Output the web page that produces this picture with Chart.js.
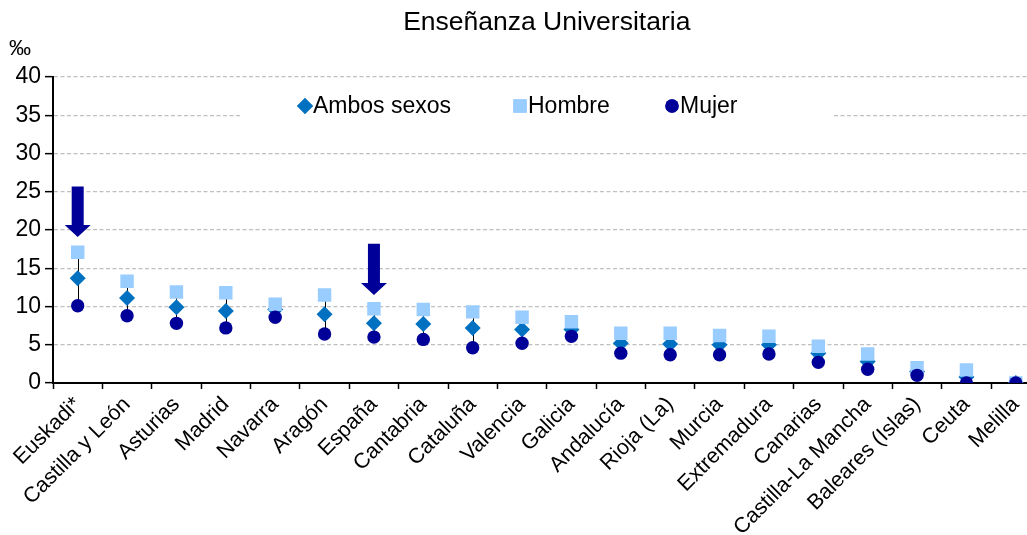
<!DOCTYPE html>
<html>
<head>
<meta charset="utf-8">
<script src="https://cdn.jsdelivr.net/npm/chart.js@4"></script>
<style>
  html, body { margin: 0; padding: 0; background: #fff; overflow: hidden; }
</style>
</head>
<body>
<canvas id="myChart" width="1050" height="535"></canvas>
<script>

const categories = [
  'Euskadi*', 'Castilla y León', 'Asturias', 'Madrid', 'Navarra', 'Aragón',
  'España', 'Cantabria', 'Cataluña', 'Valencia', 'Galicia', 'Andalucía',
  'Rioja (La)', 'Murcia', 'Extremadura', 'Canarias', 'Castilla-La Mancha',
  'Baleares (Islas)', 'Ceuta', 'Melilla'
];
const ambos = [13.7, 11.1, 9.9, 9.4, 9.6, 9.0, 7.8, 7.7, 7.2, 7.0, 7.0, 5.2, 5.1, 5.0, 5.0, 3.9, 2.8, 1.5, 0.8, 0.0];
const hombre = [17.1, 13.3, 11.9, 11.8, 10.3, 11.5, 9.7, 9.6, 9.3, 8.6, 8.0, 6.5, 6.5, 6.2, 6.1, 4.8, 3.8, 2.0, 1.7, 0.0];
const mujer = [10.1, 8.8, 7.8, 7.2, 8.6, 6.4, 6.0, 5.7, 4.6, 5.2, 6.1, 3.9, 3.7, 3.7, 3.8, 2.7, 1.8, 1.0, 0.0, 0.0];
const yTicks = [0, 5, 10, 15, 20, 25, 30, 35, 40];

// flechas señalando Euskadi y España
const arrowCategories = ['Euskadi*', 'España'];
const arrowTop = [25.7, 18.2];
const arrowTip = [19.1, 11.5];

const FONT = '"Liberation Sans", Arial, sans-serif';
const C_AMBOS = '#0070C0';
const C_HOMBRE = '#99CCFF';
const C_MUJER = '#000099';

// lineas verticales max-min por categoria
const highLowPlugin = {
  id: 'highLow',
  beforeDatasetsDraw(chart) {
    const {ctx, scales: {x, y}} = chart;
    ctx.save();
    ctx.strokeStyle = '#000';
    ctx.lineWidth = 1;
    categories.forEach((c, i) => {
      const vals = [ambos[i], hombre[i], mujer[i]];
      const px = Math.round(x.getPixelForValue(i)) + 0.5;
      ctx.beginPath();
      ctx.moveTo(px, y.getPixelForValue(Math.max(...vals)));
      ctx.lineTo(px, y.getPixelForValue(Math.min(...vals)));
      ctx.stroke();
    });
    ctx.restore();
  }
};

// cuadro de leyenda dentro del grafico
const legendItems = [
  {text: 'Ambos sexos', style: 'rectRot', color: C_AMBOS, mx: 305, r: 8},
  {text: 'Hombre', style: 'rect', color: C_HOMBRE, mx: 520, r: 9.5},
  {text: 'Mujer', style: 'circle', color: C_MUJER, mx: 672, r: 6.7}
];
const legendBoxPlugin = {
  id: 'legendBox',
  beforeDatasetsDraw(chart) {
    const {ctx} = chart;
    ctx.save();
    ctx.fillStyle = '#fff';
    ctx.fillRect(240, 88, 593, 36);
    const ly = 106;
    legendItems.forEach(it => {
      ctx.fillStyle = it.color;
      Chart.helpers.drawPoint(ctx, {pointStyle: it.style, radius: it.r, borderWidth: 0}, it.mx, ly);
      ctx.fill();
      ctx.fillStyle = '#000';
      ctx.font = '23px ' + FONT;
      ctx.textBaseline = 'middle';
      ctx.textAlign = 'left';
      ctx.fillText(it.text, it.mx + 8, ly + 1);
    });
    ctx.restore();
  }
};

const arrowPlugin = {
  id: 'arrows',
  afterDatasetsDraw(chart) {
    const {ctx, scales: {x, y}} = chart;
    ctx.save();
    ctx.fillStyle = C_MUJER;
    arrowCategories.forEach((c, i) => {
      const px = x.getPixelForValue(categories.indexOf(c));
      const top = y.getPixelForValue(arrowTop[i]);
      const tip = y.getPixelForValue(arrowTip[i]);
      const head = tip - 12;
      ctx.beginPath();
      ctx.moveTo(px - 6, top);
      ctx.lineTo(px + 6, top);
      ctx.lineTo(px + 6, head);
      ctx.lineTo(px + 13, head);
      ctx.lineTo(px, tip);
      ctx.lineTo(px - 13, head);
      ctx.lineTo(px - 6, head);
      ctx.closePath();
      ctx.fill();
    });
    ctx.restore();
  }
};

const textPlugin = {
  id: 'texts',
  afterDraw(chart) {
    const {ctx, chartArea} = chart;
    ctx.save();
    ctx.fillStyle = '#000';
    ctx.textAlign = 'center';
    ctx.textBaseline = 'middle';
    ctx.font = '26.5px ' + FONT;
    ctx.fillText('Enseñanza Universitaria', (chartArea.left + chartArea.right) / 2, 23);
    ctx.textAlign = 'left';
    ctx.font = '22px ' + FONT;
    ctx.fillText('‰', 9, 49);
    ctx.restore();
  }
};

const data = {
  labels: categories,
  datasets: [
    {
      label: 'Ambos sexos',
      data: ambos,
      pointStyle: 'rectRot',
      pointRadius: 8,
      backgroundColor: C_AMBOS,
      borderColor: C_AMBOS,
      pointBorderWidth: 0,
      showLine: false,
      order: 3
    },
    {
      label: 'Hombre',
      data: hombre,
      pointStyle: 'rect',
      pointRadius: 9.5,
      backgroundColor: C_HOMBRE,
      borderColor: C_HOMBRE,
      pointBorderWidth: 0,
      showLine: false,
      order: 2
    },
    {
      label: 'Mujer',
      data: mujer,
      pointStyle: 'circle',
      pointRadius: 6.7,
      backgroundColor: C_MUJER,
      borderColor: C_MUJER,
      pointBorderWidth: 0,
      showLine: false,
      order: 1
    }
  ]
};

const config = {
  type: 'line',
  data: data,
  plugins: [highLowPlugin, legendBoxPlugin, arrowPlugin, textPlugin],
  options: {
    responsive: false,
    animation: false,
    layout: { padding: { top: 77, left: 0, right: 0, bottom: 0 } },
    plugins: {
      legend: { display: false },
      title: { display: false },
      tooltip: { enabled: false }
    },
    scales: {
      x: {
        offset: true,
        grid: {
          offset: true,
          drawOnChartArea: false,
          tickLength: 6,
          tickColor: '#000',
          tickWidth: 1.5
        },
        border: { color: '#000', width: 2 },
        ticks: {
          color: '#000',
          font: { family: FONT, size: 21.5 },
          maxRotation: 45,
          minRotation: 45,
          autoSkip: false,
          padding: 3
        },
        afterFit(scale) { scale.height = 152; }
      },
      y: {
        min: 0,
        max: 40,
        afterBuildTicks(scale) { scale.ticks = yTicks.map(v => ({value: v})); },
        grid: {
          color: (ctx) => ctx.tick && ctx.tick.value === 0 ? 'rgba(0,0,0,0)' : '#C0C0C0',
          lineWidth: 1.3,
          tickLength: 8,
          tickColor: '#000',
          tickWidth: 1.5
        },
        border: { color: '#000', width: 2, dash: [4, 2.5] },
        ticks: {
          color: '#000',
          font: { family: FONT, size: 23 },
          padding: 4
        },
        afterFit(scale) { scale.width = 53; }
      }
    }
  }
};

const myChart = new Chart(document.getElementById('myChart'), config);
</script>
</body>
</html>
